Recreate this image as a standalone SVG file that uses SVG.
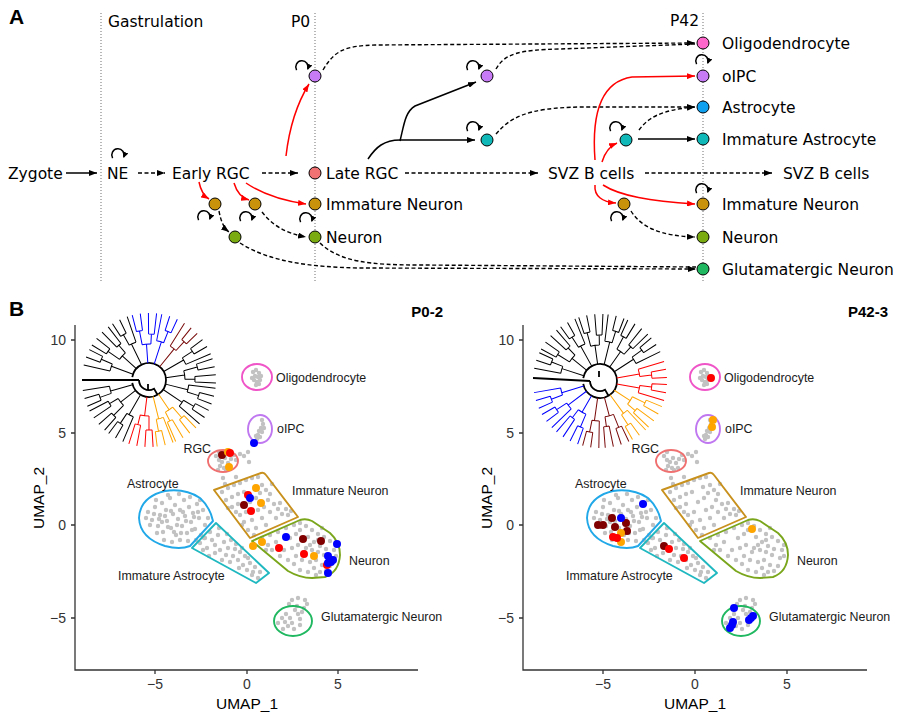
<svg xmlns="http://www.w3.org/2000/svg" width="900" height="714" viewBox="0 0 900 714">
<style>
.ta{font-family:"DejaVu Sans",sans-serif;font-size:15.5px;fill:#000}
.tb{font-family:"Liberation Sans",Arial,sans-serif;font-size:12.4px;fill:#1a1a1a}
.tk{font-family:"Liberation Sans",Arial,sans-serif;font-size:14px;fill:#333}
.ax{font-family:"Liberation Sans",Arial,sans-serif;font-size:15.5px;fill:#000}
.hd{font-family:"Liberation Sans",Arial,sans-serif;font-size:21px;font-weight:bold;fill:#000}
.ti{font-family:"Liberation Sans",Arial,sans-serif;font-size:15px;font-weight:bold;fill:#000}
.vl{stroke:#888;stroke-width:1.2;stroke-dasharray:1 2;fill:none}
.sol{fill:none;stroke:#000;stroke-width:1.5}
.dsh{fill:none;stroke:#000;stroke-width:1.4;stroke-dasharray:4 2.5}
.red{fill:none;stroke:#f00;stroke-width:1.5}
.nd{stroke:#000;stroke-width:1}
.tree path{fill:none;stroke-width:1.8}
.axl{stroke:#333;stroke-width:1.3;fill:none}
.ol{fill:none;stroke-width:1.9;stroke-linejoin:round}
.gd{fill:none;stroke:#c2c2c2;stroke-width:4.4;stroke-linecap:round}
.cd{fill:none;stroke-width:8;stroke-linecap:round}
</style>
<defs>
<marker id="ak" viewBox="0 0 8 6" refX="8" refY="3" markerWidth="8" markerHeight="6" markerUnits="userSpaceOnUse" orient="auto"><path d="M0,0 L8,3 L0,6 z" fill="#000"/></marker>
<marker id="ar" viewBox="0 0 8 6" refX="8" refY="3" markerWidth="8" markerHeight="6" markerUnits="userSpaceOnUse" orient="auto"><path d="M0,0 L8,3 L0,6 z" fill="#f00"/></marker>
<marker id="as" viewBox="0 0 6 6" refX="5" refY="3" markerWidth="6" markerHeight="6" markerUnits="userSpaceOnUse" orient="auto"><path d="M0,0 L6,3 L0,6 z" fill="#000"/></marker>
<g id="loop"><path d="M-5.4,3.1 A6.2,6.2 0 1 1 5.8,2.1" fill="none" stroke="#000" stroke-width="1.5" marker-end="url(#as)"/></g>
<g id="c4">
<path d="M17,0 L36,0 M35.73,-4.39 A36,36 0 0 1 35.73,4.39 M35.73,-4.39 L49.63,-6.09 M49.16,-9.11 A50,50 0 0 1 49.91,-3.05 M49.16,-9.11 L65.88,-12.21 M49.91,-3.05 L66.87,-4.09 M35.73,4.39 L45.66,5.61 M45.91,2.81 A46,46 0 0 1 45.23,8.38 M45.91,2.81 L66.87,4.09 M45.23,8.38 L65.88,12.21"/>
</g>
<g id="c3">
<path d="M17,0 L40,0 M39.70,-4.87 A40,40 0 0 1 39.93,2.44 M39.70,-4.87 L66.50,-8.17 M39.93,2.44 L51.90,3.17 M52,0 A52,52 0 0 1 51.61,6.34 M52,0 L67,0 M51.61,6.34 L66.50,8.17"/>
</g>
<g id="umap">
<path class="gd" d="M253,372h0M256,370h0M259,373h0M255,376h0M258,377h0M261,376h0M254,380h0M257,382h0M260,380h0M256,385h0M259,384h0M252,378h0
M262,420h0M263,424h0M261,428h0M259,431h0M262,432h0M258,435h0M260,437h0M257,439h0M264,428h0M256,436h0
M216,456h0M219,460h0M222,462h0M225,458h0M220,466h0M224,468h0M228,463h0M231,459h0M226,470h0M230,468h0M219,452h0M234,455h0M236,460h0M240,454h0M244,456h0M249,462h0M248,452h0M218,470h0M223,478h0M225,484h0M236,477h0
M148,512h0M152,520h0M155,507h0M158,526h0M160,515h0M162,503h0M163,532h0M166,510h0M167,521h0M170,498h0M171,528h0M173,514h0M175,505h0M176,535h0M178,519h0M180,510h0M182,526h0M184,500h0M185,516h0M187,533h0M189,507h0M191,522h0M193,513h0M195,529h0M197,504h0M199,518h0M201,535h0M203,510h0M205,525h0M150,525h0M157,533h0M164,540h0M172,542h0M180,540h0M188,541h0M196,540h0M204,538h0M156,500h0M168,495h0M179,494h0M190,497h0M200,500h0M146,518h0M154,514h0M159,519h0M165,516h0M171,511h0M177,525h0M183,512h0M186,521h0M192,530h0M198,512h0M168,527h0M162,522h0M174,532h0M181,533h0M194,517h0M208,518h0
M200,543h0M205,538h0M210,532h0M212,540h0M207,548h0M215,545h0M218,535h0M220,550h0M224,542h0M226,555h0M228,548h0M231,540h0M233,556h0M235,549h0M238,560h0M240,552h0M243,565h0M245,556h0M247,570h0M250,563h0M252,575h0M255,567h0M258,578h0M222,560h0M215,553h0M230,562h0M236,544h0M242,548h0M248,558h0M253,572h0M260,572h0M203,550h0M209,556h0M219,528h0M227,534h0M239,568h0
M222,492h0M228,488h0M234,485h0M240,483h0M246,480h0M252,478h0M258,477h0M226,500h0M232,497h0M238,494h0M244,492h0M255,487h0M262,485h0M266,490h0M270,494h0M232,507h0M238,504h0M250,502h0M256,498h0M268,500h0M274,504h0M278,509h0M240,515h0M246,512h0M258,510h0M264,507h0M270,512h0M282,514h0M288,515h0M244,522h0M252,520h0M262,518h0M276,518h0M248,530h0M256,528h0M266,525h0M236,512h0M228,508h0M272,484h0M280,503h0M286,509h0M260,493h0M242,525h0M254,535h0M291,511h0
M262,538h0M270,535h0M278,532h0M286,528h0M294,525h0M300,523h0M306,526h0M312,530h0M318,534h0M324,537h0M330,541h0M268,545h0M276,542h0M290,538h0M296,534h0M308,537h0M314,542h0M320,546h0M326,549h0M334,550h0M284,550h0M292,548h0M298,545h0M306,548h0M318,552h0M324,555h0M332,558h0M336,556h0M296,556h0M302,560h0M310,562h0M316,560h0M322,565h0M330,566h0M300,570h0M308,572h0M314,568h0M320,572h0M326,571h0M304,552h0M312,550h0M280,556h0M288,560h0M294,564h0M272,550h0M266,550h0M336,545h0M310,545h0M318,540h0M322,528h0M300,530h0M316,575h0
M282,618h0M285,622h0M288,626h0M286,614h0M290,618h0M292,623h0M295,610h0M298,614h0M300,619h0M302,612h0M304,608h0M297,606h0M289,604h0M292,600h0M298,598h0M305,600h0M307,604h0M278,623h0M283,629h0M294,629h0M300,625h0"/>
<ellipse class="ol" cx="257" cy="377" rx="15" ry="13" stroke="#f055c8"/>
<ellipse class="ol" cx="260" cy="429" rx="12" ry="14" stroke="#c078f0"/>
<ellipse class="ol" cx="223" cy="461" rx="15" ry="11" stroke="#f07070"/>
<path class="ol" stroke="#c8901c" d="M214,490 L261,473 Q264,472 266,475 L298,517 L250,538 Z"/>
<path class="ol" stroke="#7aa61c" d="M252,541 L300,520 Q306,518 312,521 L330,533 Q340,542 340,555 Q339,572 325,577 L312,578 Q300,578 288,571 Z"/>
<path class="ol" stroke="#20a8e8" d="M213,521 L190,546 Q180,550 165,546 Q140,538 139,518 Q140,497 165,491 Q185,488 200,498 Q210,507 213,521 Z"/>
<path class="ol" stroke="#20b8c0" d="M192,548 L216,523 L269,573 L256,583 Z"/>
<ellipse class="ol" cx="293" cy="621" rx="19" ry="15" stroke="#20b860"/>
</g>
</defs>
<rect width="900" height="714" fill="#fff"/>

<g id="panelA">
<text class="hd" x="9" y="24">A</text>
<g id="timelines">
<line class="vl" x1="101" y1="13" x2="101" y2="282"/>
<line class="vl" x1="315" y1="13" x2="315" y2="282"/>
<line class="vl" x1="703" y1="13" x2="703" y2="282"/>
<text class="ta" x="108" y="27">Gastrulation</text>
<text class="ta" x="291" y="27">P0</text>
<text class="ta" x="670" y="26">P42</text>
</g>
<g id="connectors">
<path class="sol" d="M66,173 L97,173" marker-end="url(#ak)"/>
<path class="dsh" d="M138,173 L165,173" marker-end="url(#ak)"/>
<path class="dsh" d="M262,173 L298,173" marker-end="url(#ak)"/>
<path class="dsh" d="M405,173 L538,173" marker-end="url(#ak)"/>
<path class="dsh" d="M645,173 L772,173" marker-end="url(#ak)"/>
<path class="red" d="M286,156 C289,130 296,105 309,84" marker-end="url(#ar)"/>
<path class="red" d="M199,182 C201,192 204,196 209,199" marker-end="url(#ar)"/>
<path class="red" d="M234,183 C237,193 242,198 249,200" marker-end="url(#ar)"/>
<path class="red" d="M246,183 C265,196 285,201 306,204" marker-end="url(#ar)"/>
<path class="dsh" d="M219,211 C221,222 224,228 229,232" marker-end="url(#ak)"/>
<path class="dsh" d="M262,212 C272,225 285,233 306,237" marker-end="url(#ak)"/>
<path class="dsh" d="M320,243 C340,262 370,265 420,265 L696,267"/>
<path class="dsh" d="M240,243 C270,262 310,267 360,268 L696,269" marker-end="url(#ak)"/>
<path class="dsh" d="M323,70 C335,50 345,46 375,45 L695,43" marker-end="url(#ak)"/>
<path class="dsh" d="M496,69 C505,53 520,50 560,49 L695,44"/>
<path class="sol" d="M368,159 C376,147 384,140 400,140 L475,140" marker-end="url(#ak)"/>
<path class="sol" d="M400,141 C404,125 405,112 415,106 L476,82" marker-end="url(#ak)"/>
<path class="dsh" d="M496,134 C510,118 525,108 580,107 L695,107" marker-end="url(#ak)"/>
<path class="sol" d="M638,139 L695,139" marker-end="url(#ak)"/>
<path class="dsh" d="M639,130 C648,118 660,110 695,107" marker-end="url(#ak)"/>
<path class="red" d="M595,160 C592,120 598,82 632,77 L695,76" marker-end="url(#ar)"/>
<path class="red" d="M602,162 C605,152 610,146 617,143" marker-end="url(#ar)"/>
<path class="red" d="M595,185 C594,196 602,202 616,203" marker-end="url(#ar)"/>
<path class="red" d="M603,185 C620,196 650,201 695,204" marker-end="url(#ar)"/>
<path class="dsh" d="M631,211 C641,227 660,236 695,237" marker-end="url(#ak)"/>
</g>
<g id="loops">
<use href="#loop" x="118" y="155"/>
<use href="#loop" x="302" y="67"/>
<use href="#loop" x="204" y="217"/>
<use href="#loop" x="246" y="218"/>
<use href="#loop" x="306" y="219"/>
<use href="#loop" x="473" y="67"/>
<use href="#loop" x="473" y="128"/>
<use href="#loop" x="616" y="128"/>
<use href="#loop" x="617" y="218"/>
<use href="#loop" x="702" y="61"/>
<use href="#loop" x="702" y="190"/>
</g>
<g id="n-zygote"><text class="ta" x="8" y="178.5">Zygote</text></g>
<g id="n-ne"><text class="ta" x="107" y="178.5">NE</text></g>
<g id="n-earlyrgc"><text class="ta" x="172" y="178.5">Early RGC</text></g>
<g id="n-early-in1"><circle class="nd" cx="215" cy="204" r="6" fill="#c8920a"/></g>
<g id="n-early-in2"><circle class="nd" cx="255" cy="204" r="6" fill="#c8920a"/></g>
<g id="n-early-neuron"><circle class="nd" cx="235" cy="237" r="6" fill="#7aab10"/></g>
<g id="n-p0-opc"><circle class="nd" cx="315" cy="76" r="6" fill="#c77cf5"/></g>
<g id="n-p0-latergc"><circle class="nd" cx="315" cy="173" r="6" fill="#f07272"/><text class="ta" x="326" y="178.5">Late RGC</text></g>
<g id="n-p0-in"><circle class="nd" cx="315" cy="204" r="6" fill="#c8920a"/><text class="ta" x="326" y="209.5">Immature Neuron</text></g>
<g id="n-p0-neuron"><circle class="nd" cx="315" cy="237" r="6" fill="#7aab10"/><text class="ta" x="326" y="242.5">Neuron</text></g>
<g id="n-mid-opc"><circle class="nd" cx="487" cy="76" r="6" fill="#c77cf5"/></g>
<g id="n-mid-ia"><circle class="nd" cx="487" cy="140" r="6" fill="#10b8b8"/></g>
<g id="n-svz"><text class="ta" x="548" y="178.5">SVZ B cells</text></g>
<g id="n-svz-ia"><circle class="nd" cx="626" cy="140" r="6" fill="#10b8b8"/></g>
<g id="n-svz-in"><circle class="nd" cx="624" cy="204" r="6" fill="#c8920a"/></g>
<g id="n-svz2"><text class="ta" x="783" y="178.5">SVZ B cells</text></g>
<g id="n-p42-olig"><circle class="nd" cx="703" cy="43" r="6" fill="#ff66cc"/><text class="ta" x="722" y="48.5">Oligodendrocyte</text></g>
<g id="n-p42-opc"><circle class="nd" cx="703" cy="76" r="6" fill="#c77cf5"/><text class="ta" x="722" y="81.5">oIPC</text></g>
<g id="n-p42-astro"><circle class="nd" cx="703" cy="107" r="6" fill="#10a0f0"/><text class="ta" x="722" y="112.5">Astrocyte</text></g>
<g id="n-p42-ia"><circle class="nd" cx="703" cy="139" r="6" fill="#10b8b8"/><text class="ta" x="722" y="144.5">Immature Astrocyte</text></g>
<g id="n-p42-in"><circle class="nd" cx="703" cy="204" r="6" fill="#c8920a"/><text class="ta" x="722" y="209.5">Immature Neuron</text></g>
<g id="n-p42-neuron"><circle class="nd" cx="703" cy="237" r="6" fill="#7aab10"/><text class="ta" x="722" y="242.5">Neuron</text></g>
<g id="n-p42-glut"><circle class="nd" cx="703" cy="269" r="6" fill="#20b860"/><text class="ta" x="722" y="274.5">Glutamatergic Neuron</text></g>
</g>

<g id="panelB">
<text class="hd" x="9" y="316">B</text>
<g id="plot-left">
<use href="#umap"/>
<path class="axl" d="M75,325 L75,670 L418,670 M71,340 H75 M71,433 H75 M71,525 H75 M71,618 H75 M155,670 V674 M247,670 V674 M338,670 V674"/>
<text class="tk" x="66" y="345" text-anchor="end">10</text>
<text class="tk" x="66" y="438" text-anchor="end">5</text>
<text class="tk" x="66" y="530" text-anchor="end">0</text>
<text class="tk" x="66" y="623" text-anchor="end">−5</text>
<text class="tk" x="155" y="689" text-anchor="middle">−5</text>
<text class="tk" x="247" y="689" text-anchor="middle">0</text>
<text class="tk" x="338" y="689" text-anchor="middle">5</text>
<text class="ax" x="247" y="709" text-anchor="middle">UMAP_1</text>
<text class="ax" transform="translate(44,498) rotate(-90)" text-anchor="middle">UMAP_2</text>
<text class="ti" x="443" y="317" text-anchor="end">P0-2</text>
<text class="tb" x="276" y="381.5">Oligodendrocyte</text>
<text class="tb" x="277" y="432.5">oIPC</text>
<text class="tb" x="211" y="452.5" text-anchor="end">RGC</text>
<text class="tb" x="292" y="494.5">Immature Neuron</text>
<text class="tb" x="127" y="487.5">Astrocyte</text>
<text class="tb" x="349" y="564.5">Neuron</text>
<text class="tb" x="118" y="579.5">Immature Astrocyte</text>
<text class="tb" x="321" y="620.5">Glutamatergic Neuron</text>
<path class="cd" stroke="#800000" d="M222,455h0M244,505h0M303,539h0M321,541h0"/>
<path class="cd" stroke="#ffa500" d="M228,452h0M229,467h0M256,488h0M261,503h0M262,542h0M253,546h0M314,556h0"/>
<path class="cd" stroke="#ff0000" d="M230,453h0M248,495h0M251,511h0M279,548h0M304,554h0M327,565h0"/>
<path class="cd" stroke="#0000ff" d="M254,443h0M250,498h0M286,537h0M337,544h0M328,556h0M331,562h0M333,560h0M328,573h0M328,563h0"/>
<g class="tree" transform="translate(149,380)">
<path stroke="#000" d="M-16.74,-2.95 A17,17 0 1 1 -16.74,2.95 M-10,0 L-67,0 M-10,0 A10,10 0 0 0 5,8.66 L8.5,14.72 M-1,4 L-1,10"/>
<use href="#c3" stroke="#000" transform="rotate(200)"/>
<use href="#c4" stroke="#000" transform="rotate(222)"/>
<use href="#c3" stroke="#000" transform="rotate(244) scale(1,-1)"/>
<use href="#c4" stroke="#0000ff" transform="rotate(266)"/>
<use href="#c3" stroke="#0000ff" transform="rotate(288)"/>
<use href="#c3" stroke="#7a0a0a" transform="rotate(309)"/>
<use href="#c3" stroke="#000" transform="rotate(330) scale(1,-1)"/>
<use href="#c4" stroke="#000" transform="rotate(352)"/>
<use href="#c3" stroke="#000" transform="rotate(14)"/>
<use href="#c3" stroke="#000" transform="rotate(34) scale(1,-1)"/>
<use href="#c4" stroke="#ffa500" transform="rotate(56)"/>
<use href="#c3" stroke="#ffa500" transform="rotate(76)"/>
<use href="#c4" stroke="#ff0000" transform="rotate(97)"/>
<use href="#c3" stroke="#000" transform="rotate(120)"/>
<use href="#c4" stroke="#000" transform="rotate(142)"/>
<use href="#c3" stroke="#000" transform="rotate(164) scale(1,-1)"/>
</g>
</g>
<g id="plot-right">
<use href="#umap" x="448"/>
<path class="axl" d="M523,325 L523,670 L867,670 M519,340 H523 M519,433 H523 M519,525 H523 M519,618 H523 M603,670 V674 M695,670 V674 M787,670 V674"/>
<text class="tk" x="514" y="345" text-anchor="end">10</text>
<text class="tk" x="514" y="438" text-anchor="end">5</text>
<text class="tk" x="514" y="530" text-anchor="end">0</text>
<text class="tk" x="514" y="623" text-anchor="end">−5</text>
<text class="tk" x="603" y="689" text-anchor="middle">−5</text>
<text class="tk" x="695" y="689" text-anchor="middle">0</text>
<text class="tk" x="787" y="689" text-anchor="middle">5</text>
<text class="ax" x="695" y="709" text-anchor="middle">UMAP_1</text>
<text class="ax" transform="translate(492,498) rotate(-90)" text-anchor="middle">UMAP_2</text>
<text class="ti" x="888" y="317" text-anchor="end">P42-3</text>
<text class="tb" x="724" y="381.5">Oligodendrocyte</text>
<text class="tb" x="725" y="432.5">oIPC</text>
<text class="tb" x="659" y="452.5" text-anchor="end">RGC</text>
<text class="tb" x="740" y="494.5">Immature Neuron</text>
<text class="tb" x="575" y="487.5">Astrocyte</text>
<text class="tb" x="797" y="564.5">Neuron</text>
<text class="tb" x="566" y="579.5">Immature Astrocyte</text>
<text class="tb" x="769" y="620.5">Glutamatergic Neuron</text>
<path class="cd" stroke="#800000" d="M612,518h0M626,523h0M598,525h0M603,525h0M615,527h0M627,531h0M664,546h0"/>
<path class="cd" stroke="#ffa500" d="M713,420h0M712,427h0M621,533h0M621,542h0M752,529h0"/>
<path class="cd" stroke="#ff0000" d="M711,378h0M613,537h0M617,538h0M669,549h0M684,558h0"/>
<path class="cd" stroke="#0000ff" d="M643,504h0M621,518h0M734,608h0M733,622h0M732,625h0M730,628h0M751,618h0M753,616h0M749,620h0"/>
<g class="tree" transform="translate(600,381)">
<path stroke="#000" d="M-16.74,-2.95 A17,17 0 1 1 -16.74,2.95 M-10,0 L-67,-3 M-10,0 A10,10 0 0 0 5,8.66 L8.5,14.72 M-1,-4 L-1,-10"/>
<use href="#c3" stroke="#000" transform="rotate(198)"/>
<use href="#c4" stroke="#000" transform="rotate(219)"/>
<use href="#c3" stroke="#000" transform="rotate(241) scale(1,-1)"/>
<use href="#c4" stroke="#000" transform="rotate(262)"/>
<use href="#c3" stroke="#000" transform="rotate(284)"/>
<use href="#c4" stroke="#000" transform="rotate(305)"/>
<use href="#c3" stroke="#000" transform="rotate(327) scale(1,-1)"/>
<use href="#c3" stroke="#ff0000" transform="rotate(350)"/>
<use href="#c3" stroke="#ff0000" transform="rotate(10) scale(1,-1)"/>
<use href="#c4" stroke="#ffa500" transform="rotate(33)"/>
<use href="#c3" stroke="#ffa500" transform="rotate(54)"/>
<use href="#c4" stroke="#7a0a0a" transform="rotate(75)"/>
<use href="#c3" stroke="#7a0a0a" transform="rotate(98)"/>
<use href="#c4" stroke="#0000ff" transform="rotate(120)"/>
<use href="#c3" stroke="#0000ff" transform="rotate(143)"/>
<use href="#c3" stroke="#0000ff" transform="rotate(163) scale(1,-1)"/>
</g>
</g>
</g>
</svg>
